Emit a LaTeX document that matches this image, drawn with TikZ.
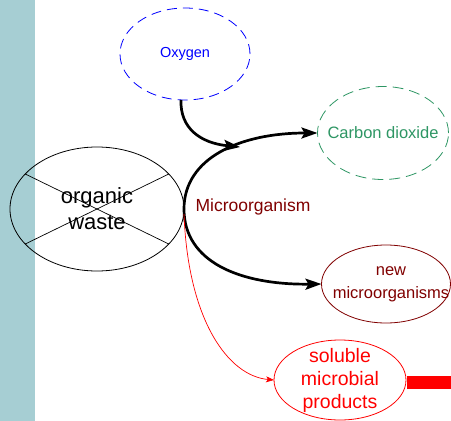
\documentclass[tikz,border=0pt]{standalone}
\usepackage{fontspec}
\setmainfont{Liberation Sans}
\usetikzlibrary{shapes.geometric,arrows.meta}
\definecolor{tealbar}{RGB}{166,206,211}
\definecolor{oxblue}{RGB}{0,0,255}
\definecolor{cogreen}{RGB}{46,150,100}
\definecolor{darkmaroon}{RGB}{128,0,0}
\begin{document}
\begin{tikzpicture}[x=1pt,y=-1pt,
  blob/.style={ellipse,inner sep=0pt,outer sep=0pt,line width=0.8pt},
  lbl/.style={align=center,inner sep=0pt},
  thickflow/.style={line width=2.7pt,-{Stealth[length=16pt,width=11pt,inset=3pt]}},
  thinflow/.style={line width=0.7pt,-{Stealth[length=8pt,width=6pt,inset=2pt]}}]
\useasboundingbox (0,0) rectangle (451,421);
% side band
\fill[tealbar] (0,0) rectangle (35,421);

% ellipses
\node[blob,draw=oxblue,dash pattern=on 10pt off 6pt,minimum width=130pt,minimum height=92pt] (oxy) at (185,54) {};
\node[lbl,text=oxblue,font=\fontsize{14.5}{17}\selectfont] (oxytext) at (oxy.center) {Oxygen};

\node[blob,draw=cogreen,dash pattern=on 11pt off 6pt,minimum width=131pt,minimum height=93pt] (co2) at (383,133) {};
\node[lbl,text=cogreen,font=\fontsize{16.5}{18}\selectfont] (co2text) at (co2.center) {Carbon dioxide};

\node[blob,draw=black,minimum width=174pt,minimum height=124pt] (ow) at (97,209) {};
\draw[line width=0.7pt] (ow.154) -- (ow.-26) (ow.26) -- (ow.206);
\node[lbl,text=black,font=\fontsize{22}{26}\selectfont] (owtext) at (ow.center) {organic\\waste};

\node[blob,draw=darkmaroon,minimum width=129pt,minimum height=78pt] (newm) at (386,284) {};
\node[lbl,text=darkmaroon,font=\fontsize{16.5}{23}\selectfont] (newmtext) at (391,284.5) {new\\microorganisms};

\node[blob,draw=red,minimum width=132pt,minimum height=80pt] (sol) at (340,380) {};
\node[lbl,text=red,font=\fontsize{19.5}{23}\selectfont] (soltext) at (sol.center) {soluble\\microbial\\products};
\fill[red] (407,376) rectangle (451,389);

% microorganism label and flows
\node[lbl,text=darkmaroon,font=\fontsize{17.5}{19}\selectfont] (micro) at (253,207) {Microorganism};
\coordinate (mleft) at (184,209);
\coordinate (join) at (240,147);

\draw[thickflow] (mleft) .. controls (184,158) and (240,133) .. (co2.west);
\draw[thickflow] (mleft) .. controls (184,262) and (240,285) .. (newm.west);
\draw[thickflow] (oxy.265) .. controls (180,128) and (200,143) .. (join);
\draw[thinflow,red] ([yshift=-5pt]mleft) .. controls (188,320) and (228,376) .. (sol.west);
\end{tikzpicture}
\end{document}
